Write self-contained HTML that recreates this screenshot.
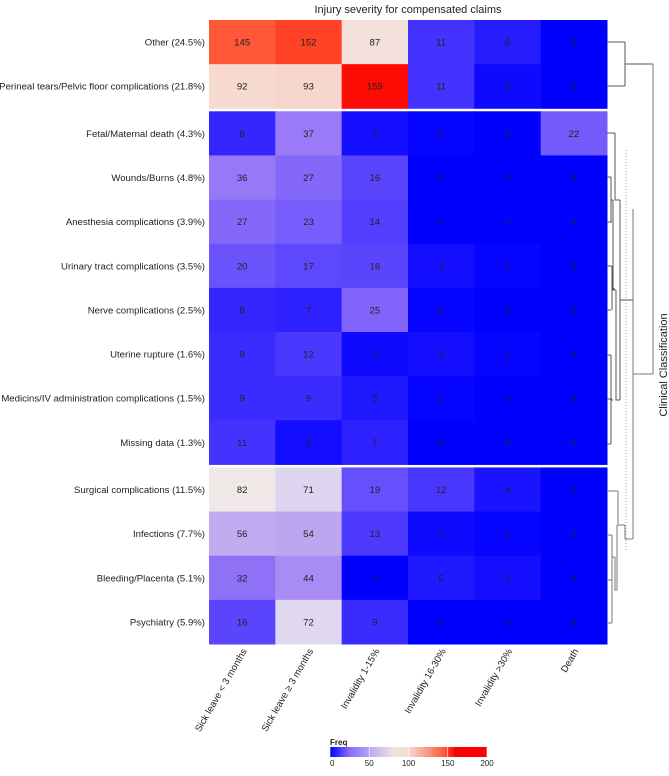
<!DOCTYPE html>
<html><head><meta charset="utf-8">
<style>
body{margin:0;background:#fff;}
svg text{font-family:"Liberation Sans",Arial,sans-serif;}
</style></head>
<body>
<svg id="chart" width="669" height="771" viewBox="0 0 669 771" xmlns="http://www.w3.org/2000/svg">
<defs>
<linearGradient id="lg" x1="0" x2="1" y1="0" y2="0">
<stop offset="0" stop-color="#0000ff"/><stop offset="0.125" stop-color="#8a6cff"/><stop offset="0.25" stop-color="#b8a4f0"/><stop offset="0.4" stop-color="#ece4e8"/><stop offset="0.5" stop-color="#f8d8cc"/><stop offset="0.62" stop-color="#fa9a80"/><stop offset="0.73" stop-color="#ff5535"/><stop offset="0.8" stop-color="#ff0000"/><stop offset="1" stop-color="#ff0000"/>
</linearGradient>
</defs>
<text x="408" y="13" font-size="11" text-anchor="middle" fill="#222">Injury severity for compensated claims</text>
<g id="cells"></g>
<g id="dendro" fill="none" stroke="#555" stroke-width="1">
<path d="M607 42H625M607 86H625M625 42V86M625 64H653" />
<path d="M607 133H615M607 177H611M607 222H612M607 266H612M607 310H611M607 355H611M607 399H612M607 444H611"/>
<path d="M615 133V200H620M611 177V222M611 200H613M612 266V310M612 288H614M611 355V444M611 400H613M613 200V290H616M614 288V290M620 200V400M616 290V400H620M620 300H633"/>
<path d="M607 491H618M607 535H612M607 580H612M607 623H612M612 535V580M612 557H615M612 580V623M615 557V590H617M618 491V525H625M617 590V525M625 525V539H633M633 209V539M633 374H653M653 64V374" stroke="#777"/>
<path d="M626 150V550" stroke="#999" stroke-dasharray="1,2"/>
</g>
<text transform="translate(667,365) rotate(-90)" font-size="11" text-anchor="middle" fill="#222">Clinical Classification</text>
<g id="legend">
<text x="330" y="745" font-size="8" font-weight="bold" fill="#222">Freq</text>
<rect x="330" y="747" width="157" height="10" fill="url(#lg)"/>
</g>
</svg>
<script>
const rows=["Other (24.5%)","Perineal tears/Pelvic floor complications (21.8%)","Fetal/Maternal death (4.3%)","Wounds/Burns (4.8%)","Anesthesia complications (3.9%)","Urinary tract complications (3.5%)","Nerve complications (2.5%)","Uterine rupture (1.6%)","Medicins/IV administration complications (1.5%)","Missing data (1.3%)","Surgical complications (11.5%)","Infections (7.7%)","Bleeding/Placenta (5.1%)","Psychiatry (5.9%)"];
const cols=["Sick leave < 3 months","Sick leave \u2265 3 months","Invalidity 1-15%","Invalidity 16-30%","Invalidity >30%","Death"];
const rowGroups=[0,0,1,1,1,1,1,1,1,1,2,2,2,2];
const values=[[145,152,87,11,6,0],[92,93,159,11,2,0],[8,37,3,1,0,22],[36,27,16,0,0,0],[27,23,14,0,0,0],[20,17,16,3,1,0],[8,7,25,1,0,0],[9,12,2,3,1,0],[9,9,5,1,0,0],[11,3,7,0,0,0],[82,71,19,12,4,0],[56,54,13,2,1,0],[32,44,0,5,3,0],[16,72,9,0,0,0]];
const legendTicks=[0,50,100,150,200];
const NS="http://www.w3.org/2000/svg";
const X0=209,X1=607,Y0=20,Y1=644,GAP=3;
const cw=(X1-X0)/cols.length;
const rh=(Y1-Y0-GAP*2)/rows.length;
function xs(j){return X0+j*cw;}
function ys(i){return Y0+i*rh+rowGroups[i]*GAP;}
const stops=[[0,[0,0,255]],[10,[64,48,255]],[25,[128,100,250]],[40,[160,128,246]],[55,[192,168,240]],[72,[224,216,240]],[82,[240,232,230]],[95,[248,212,200]],[120,[250,154,128]],[145,[255,88,56]],[155,[255,56,30]],[160,[255,0,0]],[200,[255,0,0]]];
function color(v){for(let k=1;k<stops.length;k++){if(v<=stops[k][0]){const a=stops[k-1],b=stops[k];const t=(v-a[0])/(b[0]-a[0]);const c=a[1].map((x,i)=>Math.round(x+(b[1][i]-x)*t));return `rgb(${c})`;}}return "rgb(255,0,0)";}
const g=document.getElementById('cells');
rows.forEach((r,i)=>{
  const t=document.createElementNS(NS,'text');
  
  
  t.setAttribute('x',205);t.setAttribute('y',ys(i)+rh/2+3.5);t.setAttribute('font-size','9.6');t.setAttribute('text-anchor','end');t.setAttribute('fill','#222');
  t.textContent=r;g.appendChild(t);
  values[i].forEach((v,j)=>{
    const rc=document.createElementNS(NS,'rect');
    
    
    rc.setAttribute('x',xs(j));rc.setAttribute('y',ys(i));rc.setAttribute('width',cw+0.5);rc.setAttribute('height',rh+0.5);rc.setAttribute('fill',color(v));
    g.appendChild(rc);
    const tx=document.createElementNS(NS,'text');
    
    
    tx.setAttribute('x',xs(j)+cw/2);tx.setAttribute('y',ys(i)+rh/2+3.5);tx.setAttribute('font-size','9.6');tx.setAttribute('text-anchor','middle');tx.setAttribute('fill','#222');
    tx.textContent=v;g.appendChild(tx);
  });
});
cols.forEach((c,j)=>{
  const t=document.createElementNS(NS,'text');
  
  
  const x=xs(j)+cw/2+5,y=651;
  t.setAttribute('transform',`translate(${x},${y}) rotate(-60)`);
  t.setAttribute('font-size','9.6');t.setAttribute('text-anchor','end');t.setAttribute('fill','#222');
  t.textContent=c;g.appendChild(t);
});
const lg=document.getElementById('legend');
legendTicks.forEach(v=>{
  const x=330+v/200*157;
  const l=document.createElementNS(NS,'line');
  
  
  l.setAttribute('x1',x);l.setAttribute('x2',x);l.setAttribute('y1',747);l.setAttribute('y2',757);l.setAttribute('stroke','#fff');l.setAttribute('stroke-width','0.6');
  lg.appendChild(l);
  const t=document.createElementNS(NS,'text');
  
  
  t.setAttribute('x',x);t.setAttribute('y',766);t.setAttribute('font-size','8');t.setAttribute('text-anchor',v===0?'start':'middle');t.setAttribute('fill','#222');
  t.textContent=v;lg.appendChild(t);
});
</script>
</body></html>
